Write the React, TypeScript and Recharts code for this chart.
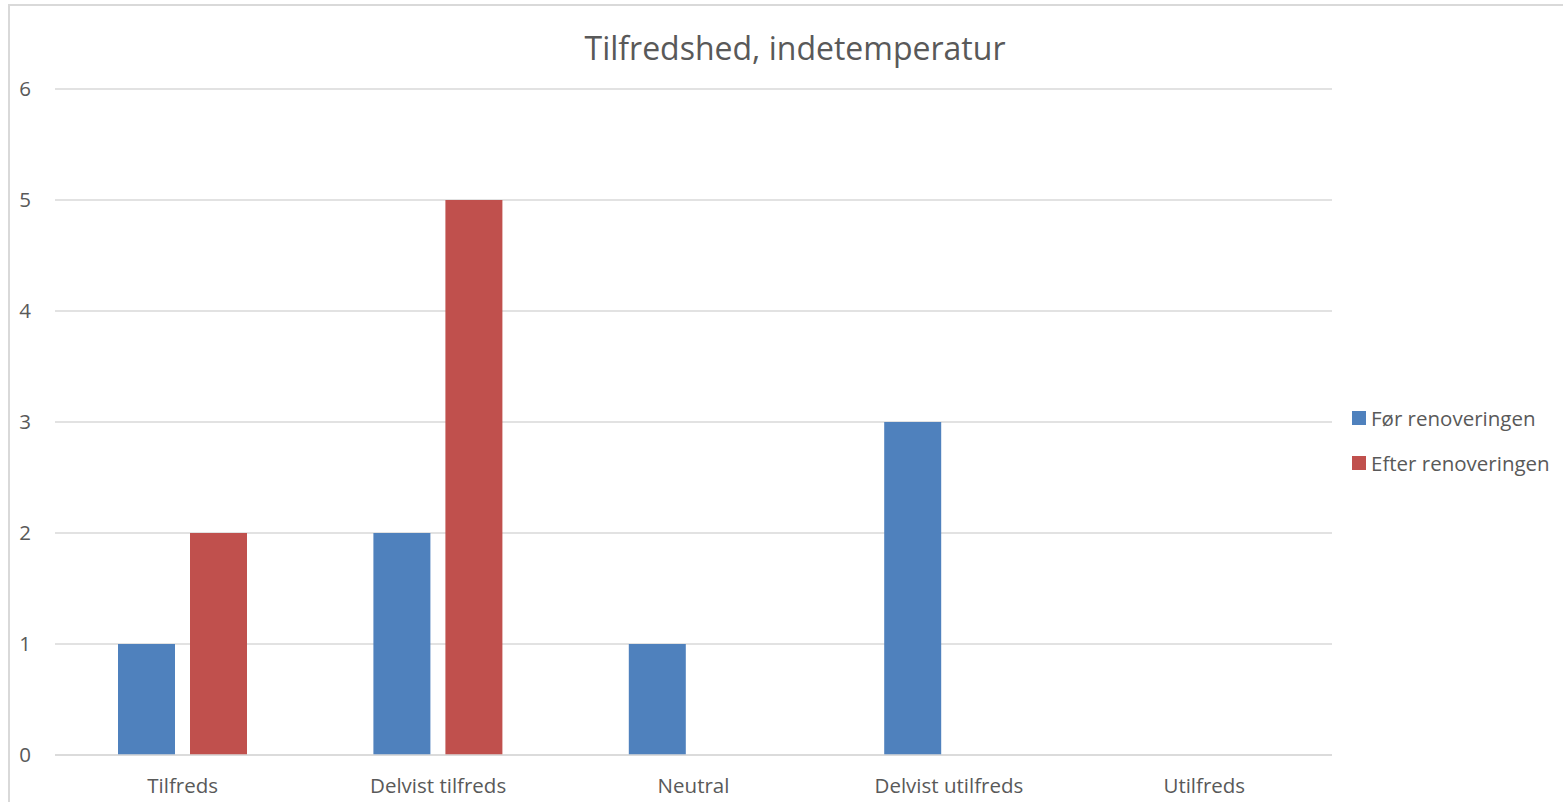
import React from "react";
import { BarChart, Bar, XAxis, YAxis, CartesianGrid } from "recharts";

const categories = ["Tilfreds", "Delvist tilfreds", "Neutral", "Delvist utilfreds", "Utilfreds"];
const before = [1, 2, 1, 3, 0];
const after = [2, 5, 0, 0, 0];
const yTicks = [0, 1, 2, 3, 4, 5, 6];
const seriesNames = ["Før renoveringen", "Efter renoveringen"];
const seriesColors = ["#4F81BD", "#C0504D"];

const data = categories.map((name, i) => ({
  name,
  before: before[i],
  after: after[i],
}));

const FONT = "Open Sans, Liberation Sans, sans-serif";
const TEXT = "#595959";

export default function App() {
  return (
    <div style={{ position: "absolute", left: 0, top: 0, width: 1563, height: 802, background: "#fff", fontFamily: FONT }}>
      {/* chart frame */}
      <div
        style={{
          position: "absolute",
          left: 8,
          top: 4,
          width: 1560,
          height: 820,
          border: "2px solid #d9d9d9",
          boxSizing: "border-box",
        }}
      />
      <div
        style={{
          position: "absolute",
          left: 0,
          width: 1590,
          top: 27,
          textAlign: "center",
          fontSize: 32,
          color: TEXT,
          lineHeight: "42px",
        }}
      >
        Tilfredshed, indetemperatur
      </div>
      <div style={{ position: "absolute", left: 0, top: 0 }}>
        <BarChart
          width={1563}
          height={802}
          data={data}
          margin={{ top: 89, right: 231, left: 0, bottom: 0 }}
          barCategoryGap="24.7%"
          barGap={15}
        >
          <CartesianGrid vertical={false} stroke="#d9d9d9" strokeWidth={1.5} />
          <XAxis
            dataKey="name"
            height={47}
            axisLine={{ stroke: "#d9d9d9", strokeWidth: 1.5 }}
            tickLine={false}
            tickSize={0}
            tickMargin={23}
            tick={{ fill: TEXT, fontSize: 20.5, fontFamily: FONT }}
            interval={0}
          />
          <YAxis
            width={55}
            domain={[0, 6]}
            ticks={yTicks}
            axisLine={false}
            tickLine={false}
            tickSize={0}
            tickMargin={24}
            tick={{ fill: TEXT, fontSize: 20.5, fontFamily: FONT }}
          />
          <Bar dataKey="before" name={seriesNames[0]} fill={seriesColors[0]} barSize={57} isAnimationActive={false} />
          <Bar dataKey="after" name={seriesNames[1]} fill={seriesColors[1]} barSize={57} isAnimationActive={false} />
        </BarChart>
      </div>
      {/* legend */}
      <div style={{ position: "absolute", left: 1352, top: 395 }}>
        {seriesNames.map((n, i) => (
          <div
            key={n}
            style={{ display: "flex", alignItems: "center", height: 45, fontSize: 20.5, color: TEXT, fontFamily: FONT }}
          >
            <span style={{ display: "inline-block", width: 14, height: 14, background: seriesColors[i], marginRight: 5 }} />
            {n}
          </div>
        ))}
      </div>
    </div>
  );
}
